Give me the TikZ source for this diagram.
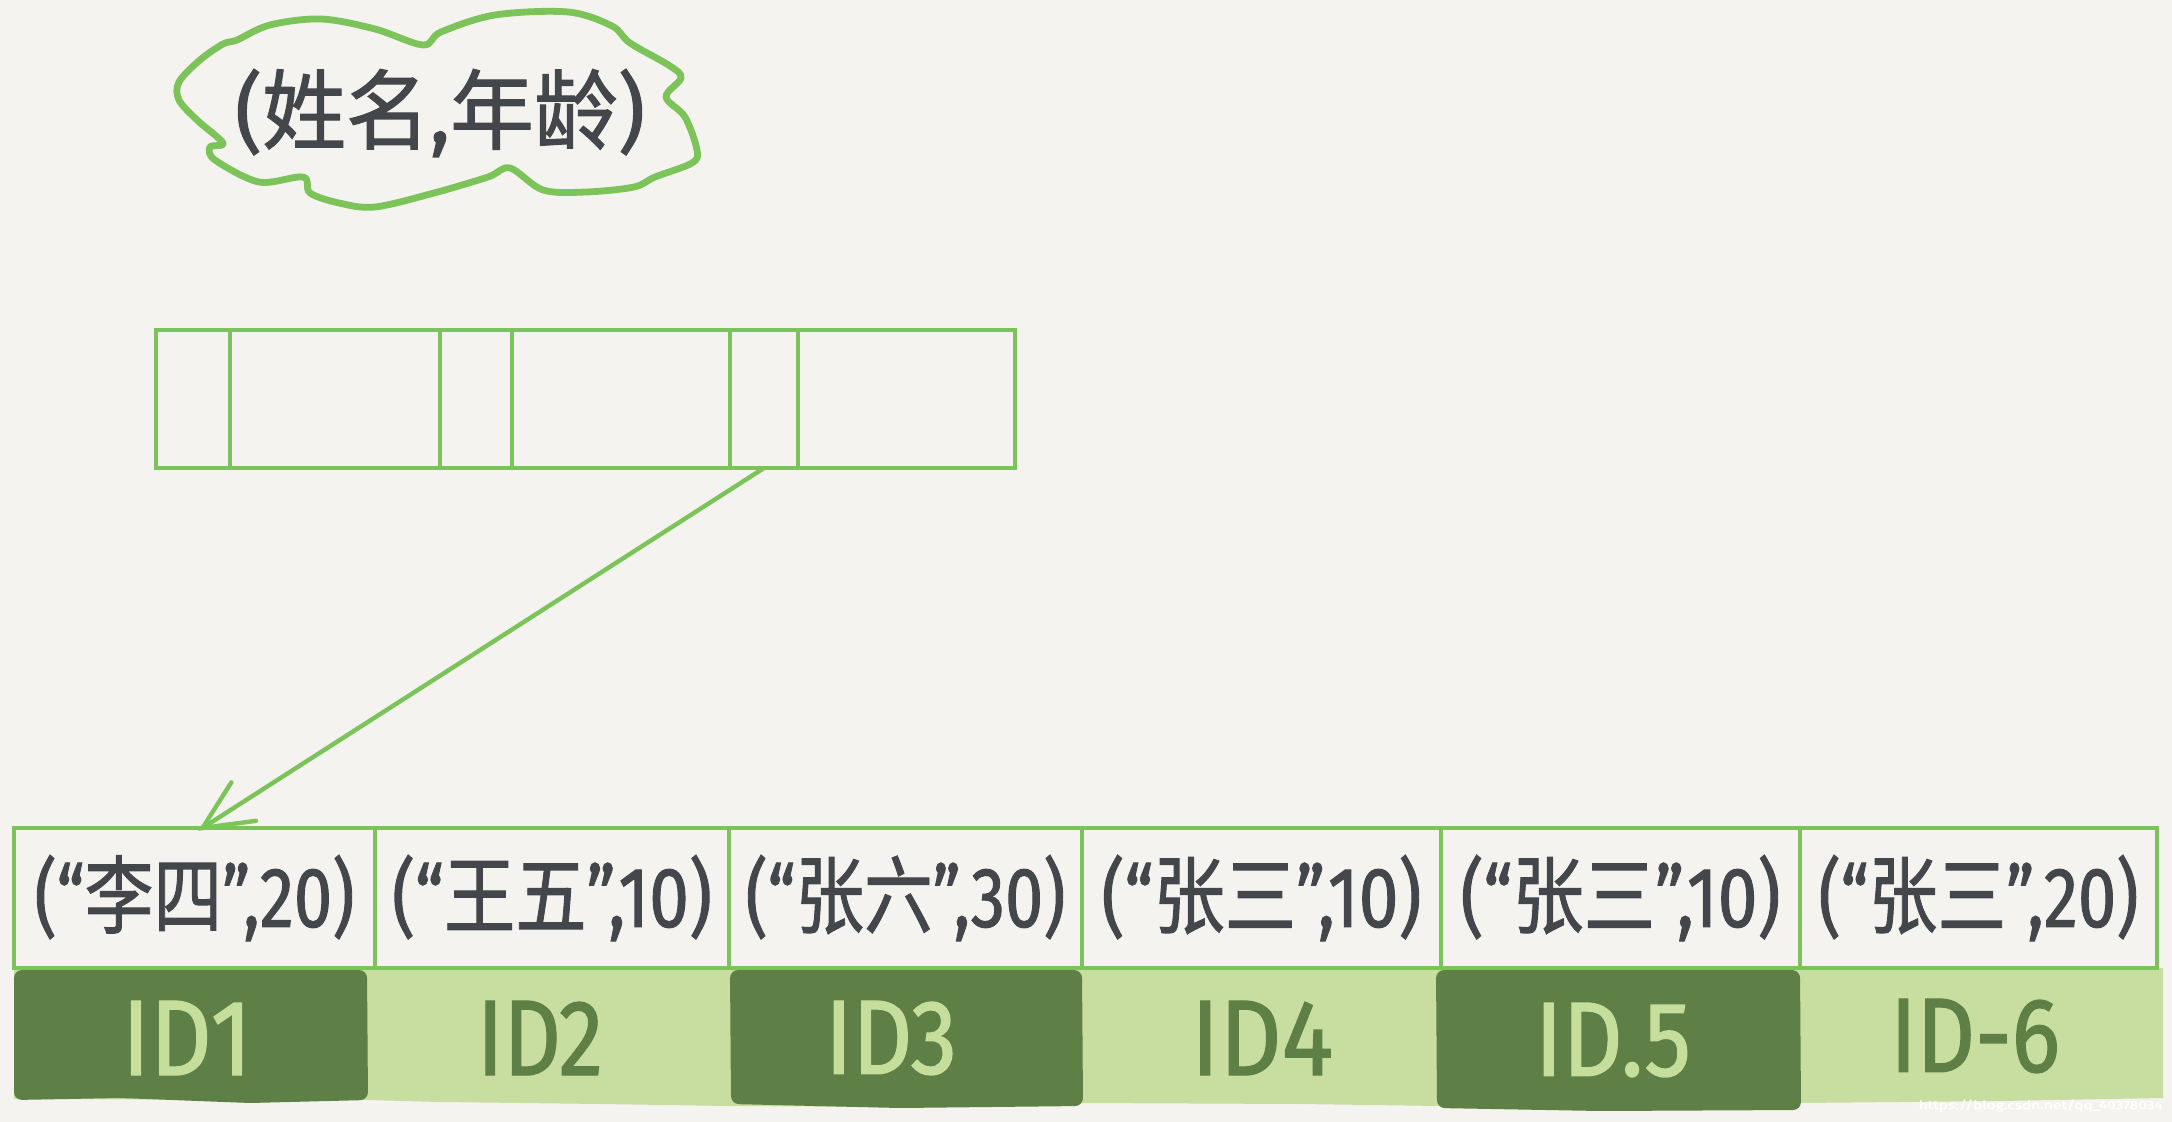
\documentclass[tikz,border=0pt]{standalone}
\usepackage{fontspec}
\setmainfont{Noto Sans}
\newfontfamily\cjk{Noto Sans CJK SC}[FakeBold=1.3]
\newfontfamily\latn{Fira Sans}[FakeBold=1.3]
\usetikzlibrary{arrows.meta,calc}
\definecolor{bg}{HTML}{F4F3EF}
\definecolor{lgreen}{HTML}{7CC35A}
\definecolor{dkgreen}{HTML}{5E7F45}
\definecolor{ltgreen}{HTML}{C8DDA0}
\definecolor{inkc}{HTML}{43474B}
\definecolor{idlt}{HTML}{C5DE9B}
\newcommand\rowtxt[2]{\resizebox*{160pt}{43pt}{\latn (“\cjk #1\latn ”,#2)}}
\newcommand\idtxt[2]{\resizebox*{#1}{37pt}{\latn #2}}
\tikzset{
  slot/.style={draw=lgreen, line width=2.3pt, minimum height=69pt, inner sep=0pt, outer sep=0pt},
  rowcell/.style={draw=lgreen, line width=2.2pt, minimum height=70pt, inner sep=0pt, outer sep=0pt, text=inkc},
  idlabel/.style={inner sep=0pt},
  arrowline/.style={draw=lgreen, line width=2.2pt, line cap=round},
  cloudline/.style={draw=lgreen, line width=3.4pt, line join=round}
}
\begin{document}
\begin{tikzpicture}[x=0.5pt,y=-0.5pt]
\fill[bg] (0,0) rectangle (2172,1122);
\useasboundingbox (0,0) rectangle (2172,1122);

% cloud
\draw[cloudline] plot[smooth cycle, tension=0.55] coordinates {
 (179,82) (200,60) (223,44) (237,40) (270,25) (321,19) (375,29) (423,45)
 (441,32) (495,15) (568,12) (612,26) (630,43) (670,66) (681,78) (666,97)
 (685,117) (697,150) (692,163) (655,177) (634,187) (586,192) (543,190)
 (510,168) (488,177) (434,193) (375,207) (339,203) (310,193) (303,177)
 (259,182) (215,160) (210,147) (223,143) (197,120) (179,100)};
\node[text=inkc, inner sep=0pt] (title) at (440,113)
  {\resizebox*{205pt}{44pt}{\latn (\cjk 姓名\latn ,\cjk 年龄\latn )}};

% index entry
\node[slot, minimum width=37pt]   (i1) at (193,399) {};
\node[slot, minimum width=105pt]  (i2) at (335,399) {};
\node[slot, minimum width=36pt]   (i3) at (476,399) {};
\node[slot, minimum width=109pt]  (i4) at (621,399) {};
\node[slot, minimum width=34pt]   (i5) at (764,399) {};
\node[slot, minimum width=108.5pt] (i6) at (906.5,399) {};

% ID band
\fill[ltgreen] (14,968) -- (2163,968) -- (2163,1098) -- (2000,1101) -- (1800,1103)
  -- (1440,1106) -- (1300,1104) -- (1082,1103) -- (900,1107) -- (730,1106)
  -- (600,1104) -- (440,1102) -- (367,1100) -- (14,1099) -- cycle;
\fill[dkgreen, rounded corners=4pt] (14,970) -- (367,970) -- (368,1100) -- (250,1103) -- (120,1098) -- (14,1100) -- cycle;
\fill[dkgreen, rounded corners=4pt] (730,970) -- (1082,970) -- (1083,1106) -- (900,1108) -- (731,1104) -- cycle;
\fill[dkgreen, rounded corners=4pt] (1436,970) -- (1800,970) -- (1801,1110) -- (1600,1111) -- (1437,1108) -- cycle;

% record row
\node[rowcell, minimum width=180.5pt] (r1) at (194.5,898) {\rowtxt{李四}{20}};
\node[rowcell, minimum width=177pt]   (r2) at (552,898)   {\rowtxt{王五}{10}};
\node[rowcell, minimum width=176.5pt] (r3) at (905.5,898) {\rowtxt{张六}{30}};
\node[rowcell, minimum width=179.5pt] (r4) at (1261.5,898) {\rowtxt{张三}{10}};
\node[rowcell, minimum width=179.5pt] (r5) at (1620.5,898) {\rowtxt{张三}{10}};
\node[rowcell, minimum width=178.5pt] (r6) at (1978.5,898) {\rowtxt{张三}{20}};

% id labels
\node[idlabel, text=idlt]    (id1) at (187,1038)  {\idtxt{65pt}{ID1}};
\node[idlabel, text=dkgreen] (id2) at (540,1038)  {\idtxt{63pt}{ID2}};
\node[idlabel, text=idlt]    (id3) at (891,1038)  {\idtxt{66pt}{ID3}};
\node[idlabel, text=dkgreen] (id4) at (1262,1038) {\idtxt{71pt}{ID4}};
\node[idlabel, text=idlt]    (id5) at (1613,1040) {\idtxt{78pt}{ID.5}};
\node[idlabel, text=dkgreen] (id6) at (1975,1036) {\idtxt{85pt}{ID-6}};

% pointer arrow
\coordinate (tip) at ($(r1.north)+(8,0)$);
\draw[arrowline] (i5.south) -- (tip);
\draw[arrowline] ($(tip)!27pt!25:(i5.south)$) -- (tip) -- ($(tip)!27pt!-25:(i5.south)$);

% watermark
\node[anchor=south east, inner sep=0pt, text=white] (wm) at (2163,1112)
  {\resizebox*{122pt}{6pt}{\latn https://blog.csdn.net/qq\_40378034}};
\end{tikzpicture}
\end{document}
